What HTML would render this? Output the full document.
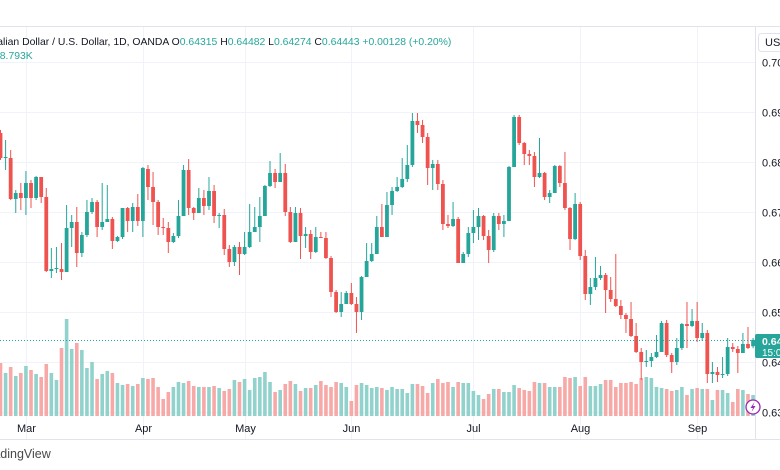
<!DOCTYPE html>
<html><head><meta charset="utf-8">
<style>
html,body{margin:0;padding:0;background:#fff;width:780px;height:470px;overflow:hidden;font-family:"Liberation Sans",sans-serif}
svg{display:block}
</style></head>
<body>
<svg id="chart" width="780" height="470" xmlns="http://www.w3.org/2000/svg">
  <rect x="0" y="0" width="780" height="470" fill="#fff"/>
  <line x1="0" y1="26.5" x2="780" y2="26.5" stroke="#e0e3eb"/>
  <g id="grid"></g>
  <g id="vols"></g>
  <g id="candles"></g>
  <line x1="0" y1="340.5" x2="755" y2="340.5" stroke="#26a69a" stroke-dasharray="1,2"/>
  <line x1="755.5" y1="26" x2="755.5" y2="440" stroke="#e0e3eb"/>
  <line x1="0" y1="439.5" x2="780" y2="439.5" stroke="#e0e3eb"/>
  <g id="yticks"></g>
  <g id="xticks"></g>
  <text x="-27" y="45" font-size="10.4" fill="#131722">Australian Dollar / U.S. Dollar, 1D, OANDA <tspan fill="#131722">O</tspan><tspan fill="#26a69a">0.64315</tspan> <tspan fill="#131722">H</tspan><tspan fill="#26a69a">0.64482</tspan> <tspan fill="#131722">L</tspan><tspan fill="#26a69a">0.64274</tspan> <tspan fill="#131722">C</tspan><tspan fill="#26a69a">0.64443</tspan> <tspan fill="#26a69a">+0.00128 (+0.20%)</tspan></text>
  <text x="-6" y="59" font-size="10.4" fill="#26a69a">18.793K</text>
  <rect x="758.5" y="33.5" width="30" height="18" rx="3" fill="#fff" stroke="#e0e3eb"/>
  <text x="765" y="46" font-size="11" fill="#131722">USD</text>
  <rect x="755" y="334" width="30" height="24" rx="2" fill="#26a69a"/>
  <text x="762" y="345" font-size="10.5" fill="#fff" font-weight="bold">0.644</text>
  <text x="762" y="356" font-size="10" fill="#fff">15:00</text>
  <circle cx="753" cy="407" r="7" fill="#fff" stroke="#9c27b0" stroke-width="1.3"/>
  <path d="M754.5 402 L750.5 408 L753 408 L751.5 412 L755.5 406 L753 406 Z" fill="#9c27b0"/>
  <text x="-18" y="458" font-size="12.5" fill="#4a4a4a">TradingView</text>
</svg>
<script>
const opens=[0.6858,0.6808,0.6808,0.6726,0.6738,0.6728,0.6758,0.6728,0.6770,0.6730,0.6582,0.6586,0.6586,0.6580,0.6668,0.6680,0.6618,0.6654,0.6700,0.6720,0.6670,0.6680,0.6686,0.6642,0.6650,0.6708,0.6682,0.6710,0.6682,0.6786,0.6750,0.6720,0.6670,0.6668,0.6640,0.6652,0.6692,0.6784,0.6708,0.6698,0.6728,0.6712,0.6742,0.6692,0.6694,0.6626,0.6600,0.6630,0.6616,0.6630,0.6660,0.6670,0.6692,0.6752,0.6778,0.6760,0.6778,0.6700,0.6640,0.6698,0.6652,0.6656,0.6620,0.6650,0.6648,0.6608,0.6540,0.6500,0.6516,0.6538,0.6516,0.6500,0.6570,0.6602,0.6616,0.6670,0.6650,0.6714,0.6742,0.6750,0.6766,0.6794,0.6882,0.6874,0.6850,0.6788,0.6796,0.6756,0.6676,0.6672,0.6686,0.6598,0.6616,0.6658,0.6670,0.6692,0.6652,0.6624,0.6692,0.6676,0.6682,0.6790,0.6890,0.6838,0.6816,0.6812,0.6770,0.6778,0.6730,0.6738,0.6792,0.6758,0.6708,0.6646,0.6716,0.6612,0.6536,0.6550,0.6568,0.6574,0.6544,0.6526,0.6512,0.6494,0.6486,0.6452,0.6420,0.6400,0.6402,0.6410,0.6420,0.6478,0.6414,0.6400,0.6428,0.6476,0.6472,0.6482,0.6448,0.6458,0.6376,0.6380,0.6374,0.6376,0.6430,0.6426,0.6418,0.6436,0.64315];
const highs=[0.6864,0.6844,0.6824,0.6744,0.6758,0.6782,0.6764,0.6772,0.6770,0.6748,0.6628,0.6630,0.6638,0.6714,0.6694,0.6710,0.6660,0.6724,0.6728,0.6724,0.6758,0.6754,0.6690,0.6652,0.6708,0.6710,0.6718,0.6736,0.6790,0.6794,0.6780,0.6724,0.6688,0.6680,0.6658,0.6724,0.6794,0.6806,0.6710,0.6748,0.6744,0.6770,0.6754,0.6698,0.6706,0.6634,0.6634,0.6640,0.6660,0.6716,0.6710,0.6730,0.6754,0.6802,0.6786,0.6818,0.6796,0.6710,0.6710,0.6708,0.6670,0.6664,0.6670,0.6660,0.6660,0.6612,0.6544,0.6540,0.6542,0.6558,0.6530,0.6572,0.6638,0.6638,0.6692,0.6716,0.6740,0.6750,0.6770,0.6808,0.6834,0.6898,0.6898,0.6884,0.6858,0.6804,0.6804,0.6764,0.6694,0.6720,0.6690,0.6620,0.6670,0.6704,0.6708,0.6694,0.6664,0.6698,0.6698,0.6694,0.6792,0.6894,0.6894,0.6840,0.6824,0.6820,0.6848,0.6780,0.6744,0.6794,0.6794,0.6820,0.6710,0.6738,0.6720,0.6624,0.6568,0.6610,0.6592,0.6578,0.6570,0.6616,0.6524,0.6498,0.6520,0.6478,0.6428,0.6424,0.6418,0.6454,0.6482,0.6484,0.6418,0.6448,0.6478,0.6520,0.6506,0.6520,0.6478,0.6464,0.6400,0.6390,0.6410,0.6448,0.6438,0.6432,0.6458,0.6470,0.64482];
const lows=[0.6804,0.6784,0.6724,0.6698,0.6704,0.6694,0.6708,0.6724,0.6718,0.6580,0.6568,0.6578,0.6564,0.6580,0.6630,0.6590,0.6610,0.6650,0.6696,0.6650,0.6664,0.6680,0.6626,0.6640,0.6646,0.6660,0.6660,0.6672,0.6650,0.6724,0.6674,0.6654,0.6654,0.6618,0.6638,0.6648,0.6692,0.6694,0.6684,0.6698,0.6694,0.6704,0.6678,0.6668,0.6614,0.6590,0.6592,0.6574,0.6614,0.6628,0.6660,0.6640,0.6692,0.6750,0.6748,0.6760,0.6692,0.6638,0.6640,0.6606,0.6628,0.6606,0.6618,0.6648,0.6606,0.6530,0.6498,0.6490,0.6516,0.6514,0.6458,0.6484,0.6570,0.6600,0.6616,0.6650,0.6650,0.6694,0.6740,0.6748,0.6760,0.6790,0.6858,0.6838,0.6754,0.6744,0.6744,0.6664,0.6668,0.6670,0.6598,0.6598,0.6610,0.6638,0.6644,0.6644,0.6598,0.6620,0.6664,0.6650,0.6682,0.6790,0.6834,0.6794,0.6794,0.6750,0.6768,0.6724,0.6718,0.6738,0.6750,0.6704,0.6624,0.6644,0.6604,0.6524,0.6514,0.6544,0.6564,0.6498,0.6520,0.6510,0.6486,0.6458,0.6450,0.6418,0.6364,0.6390,0.6390,0.6408,0.6420,0.6410,0.6378,0.6394,0.6424,0.6428,0.6470,0.6440,0.6442,0.6358,0.6358,0.6360,0.6368,0.6372,0.6420,0.6378,0.6418,0.6426,0.64274];
const closes=[0.6808,0.6810,0.6726,0.6738,0.6728,0.6758,0.6728,0.6770,0.6730,0.6582,0.6586,0.6588,0.6580,0.6668,0.6680,0.6618,0.6654,0.6700,0.6720,0.6670,0.6680,0.6686,0.6642,0.6650,0.6708,0.6682,0.6710,0.6682,0.6788,0.6750,0.6720,0.6670,0.6668,0.6640,0.6652,0.6692,0.6784,0.6708,0.6698,0.6728,0.6712,0.6742,0.6692,0.6694,0.6626,0.6600,0.6630,0.6616,0.6630,0.6660,0.6670,0.6692,0.6752,0.6778,0.6760,0.6778,0.6700,0.6640,0.6698,0.6652,0.6656,0.6620,0.6650,0.6648,0.6608,0.6540,0.6500,0.6516,0.6538,0.6516,0.6500,0.6570,0.6602,0.6616,0.6670,0.6650,0.6714,0.6742,0.6750,0.6766,0.6794,0.6882,0.6874,0.6850,0.6788,0.6796,0.6756,0.6676,0.6672,0.6686,0.6598,0.6616,0.6658,0.6670,0.6692,0.6652,0.6624,0.6692,0.6676,0.6682,0.6790,0.6890,0.6838,0.6816,0.6812,0.6770,0.6778,0.6730,0.6738,0.6792,0.6758,0.6708,0.6646,0.6716,0.6612,0.6536,0.6550,0.6568,0.6574,0.6544,0.6526,0.6512,0.6494,0.6486,0.6452,0.6420,0.6400,0.6402,0.6410,0.6420,0.6478,0.6414,0.6400,0.6428,0.6476,0.6472,0.6482,0.6448,0.6458,0.6376,0.6380,0.6374,0.6376,0.6430,0.6426,0.6418,0.6436,0.6428,0.64443];
const volumes=[53,43,49,40,43,50,46,42,39,52,43,36,68,97,67,73,66,48,54,37,42,45,43,33,31,32,30,32,38,37,38,29,17,24,29,34,33,35,30,29,29,29,30,28,25,27,36,34,37,26,38,39,44,34,24,26,32,35,32,25,28,28,31,35,31,29,34,33,29,15,31,33,31,28,29,28,26,29,27,27,23,32,32,30,23,33,37,33,34,29,34,33,33,25,21,17,22,27,27,24,24,31,28,26,25,34,33,33,29,29,29,39,38,39,30,39,30,30,32,36,36,29,33,33,34,32,38,39,38,29,28,27,25,26,29,21,27,28,27,27,16,26,26,23,14,27,26,22,21];
const priceTicks=["0.70","0.69","0.68","0.67","0.66","0.65","0.64","0.63"];
const monthLabels=["Mar","Apr","May","Jun","Jul","Aug","Sep"];
const monthIndex=[5,28,48,69,93,114,137];

const NS="http://www.w3.org/2000/svg";
const step=5.085, x0=0.5;
function xScale(i){return x0+i*step;}
function yScale(p){return 62+(0.70-p)*5000;}
const volBase=416, volPx=1.0;
function vScale(v){return volBase-v*volPx;}
function mk(tag,attrs,parent){const e=document.createElementNS(NS,tag);for(const k in attrs)e.setAttribute(k,attrs[k]);parent.appendChild(e);return e;}

const grid=document.getElementById('grid');
const yt=document.getElementById('yticks');
priceTicks.forEach(t=>{
  const y=Math.round(yScale(parseFloat(t)))+0.5;
  const l=mk('line',{x1:0,y1:y,x2:755,y2:y,stroke:'#f0f3fa'},grid);
  
  
  const tx=mk('text',{x:762,y:y+4,'font-size':11,fill:'#131722'},yt);
  tx.textContent=t;
  
  
});
const xt=document.getElementById('xticks');
monthLabels.forEach((m,k)=>{
  const x=Math.round(xScale(monthIndex[k]))+0.5;
  const l=mk('line',{x1:x,y1:27,x2:x,y2:439,stroke:'#f0f3fa'},grid);
  
  
  const tx=mk('text',{x:x,y:432,'font-size':11,fill:'#131722','text-anchor':'middle'},xt);
  tx.textContent=m;
  
  
});
const vg=document.getElementById('vols');
const cg=document.getElementById('candles');
for(let i=0;i<closes.length;i++){
  const up=closes[i]>=opens[i];
  const x=xScale(i);
  const vy=vScale(volumes[i]);
  const vb=mk('rect',{x:x-1.8,y:vy,width:3.6,height:volBase-vy,fill:up?'#92d2cc':'#f7a9a7'},vg);
  
  
  const col=up?'#26a69a':'#ef5350';
  const w=mk('line',{x1:x,y1:yScale(highs[i]),x2:x,y2:yScale(lows[i]),stroke:col,'stroke-width':1},cg);
  
  
  const top=yScale(Math.max(opens[i],closes[i])), bot=yScale(Math.min(opens[i],closes[i]));
  const b=mk('rect',{x:x-1.9,y:top,width:3.8,height:Math.max(1,bot-top),fill:col},cg);
  
  
}
</script>
</body></html>
